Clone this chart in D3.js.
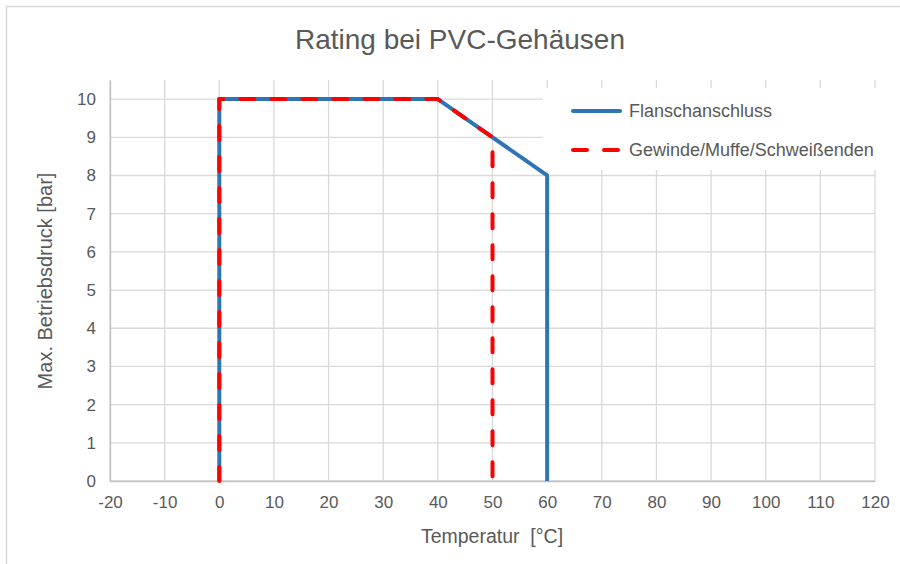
<!DOCTYPE html>
<html>
<head>
<meta charset="utf-8">
<script src="https://cdn.jsdelivr.net/npm/d3@7"></script>
<style>
  body { margin: 0; background: #fff; }
  text { font-family: "Liberation Sans", Arial, sans-serif; fill: #595959; }
</style>
</head>
<body>
<div id="chart"></div>
<script>
// Chart data
var xTicks = [-20, -10, 0, 10, 20, 30, 40, 50, 60, 70, 80, 90, 100, 110, 120];
var yTicks = [0, 1, 2, 3, 4, 5, 6, 7, 8, 9, 10];
var flanschTemp = [0, 0, 40, 60, 60];
var flanschDruck = [0, 10, 10, 8, 0];
var gewindeTemp = [0, 0, 40, 50, 50];
var gewindeDruck = [0, 10, 10, 9, 0];
var seriesNames = ["Flanschanschluss", "Gewinde/Muffe/Schweißenden"];

var svgWidth = 900;
var svgHeight = 564;

var margin = { top: 80, right: 25, bottom: 83, left: 110 };
var width = svgWidth - margin.left - margin.right;
var height = svgHeight - margin.top - margin.bottom;

var svg = d3.select("#chart")
  .append("svg")
  .attr("width", svgWidth)
  .attr("height", svgHeight);

// outer chart border
svg.append("rect")
  .attr("x", 6.5)
  .attr("y", 6.5)
  .attr("width", 900)
  .attr("height", 600)
  .attr("fill", "none")
  .attr("stroke", "#d9d9d9")
  .attr("stroke-width", 1.5);

var chartGroup = svg.append("g")
  .attr("transform", `translate(${margin.left}, ${margin.top})`);

var xScale = d3.scaleLinear().domain([-20, 120]).range([0, width]);
var yScale = d3.scaleLinear().domain([0, 10.5]).range([height, 0]);

// gridlines
chartGroup.append("g")
  .selectAll("line")
  .data(xTicks)
  .enter()
  .append("line")
  .attr("x1", d => xScale(d))
  .attr("x2", d => xScale(d))
  .attr("y1", 0)
  .attr("y2", height)
  .attr("stroke", "#d9d9d9")
  .attr("stroke-width", 1.3);

chartGroup.append("g")
  .selectAll("line")
  .data(yTicks)
  .enter()
  .append("line")
  .attr("x1", 0)
  .attr("x2", width)
  .attr("y1", d => yScale(d))
  .attr("y2", d => yScale(d))
  .attr("stroke", "#d9d9d9")
  .attr("stroke-width", 1.3);

// axes (plain hyphen for negatives, like the original)
var bottomAxis = d3.axisBottom(xScale).tickValues(xTicks).tickSize(0).tickPadding(15)
  .tickFormat(d => String(d));
var leftAxis = d3.axisLeft(yScale).tickValues(yTicks).tickSize(0).tickPadding(14)
  .tickFormat(d => String(d));

var xAxisG = chartGroup.append("g")
  .attr("transform", `translate(0, ${height})`)
  .call(bottomAxis);
xAxisG.select(".domain").attr("stroke", "#bfbfbf").attr("stroke-width", 1.5);

var yAxisG = chartGroup.append("g").call(leftAxis);
yAxisG.select(".domain").attr("stroke", "#bfbfbf").attr("stroke-width", 1.3);

chartGroup.selectAll(".tick text")
  .style("font-size", "17px")
  .style("font-family", "'Liberation Sans', Arial, sans-serif")
  .attr("fill", "#595959");

// lines
var line = d3.line()
  .x(d => xScale(d[0]))
  .y(d => yScale(d[1]));

var flanschData = d3.zip(flanschTemp, flanschDruck);
var gewindeData = d3.zip(gewindeTemp, gewindeDruck);

chartGroup.append("path")
  .datum(flanschData)
  .attr("d", line)
  .attr("fill", "none")
  .attr("stroke", "#2e75b6")
  .attr("stroke-width", 4)
  .attr("stroke-linejoin", "round");

chartGroup.append("path")
  .datum(gewindeData)
  .attr("d", line)
  .attr("fill", "none")
  .attr("stroke", "#ff0000")
  .attr("stroke-width", 4)
  .attr("stroke-linejoin", "round")
  .attr("stroke-linecap", "round")
  .attr("stroke-dasharray", "14,17");

// legend
var legend = svg.append("g");
legend.append("rect")
  .attr("x", 543)
  .attr("y", 88)
  .attr("width", 352)
  .attr("height", 82)
  .attr("fill", "#fff");

var legendY = [111, 150];
var legendColors = ["#2e75b6", "#ff0000"];
var legendDash = [null, "14,17"];

seriesNames.forEach(function(name, i) {
  legend.append("line")
    .attr("x1", 573)
    .attr("x2", 620)
    .attr("y1", legendY[i])
    .attr("y2", legendY[i])
    .attr("stroke", legendColors[i])
    .attr("stroke-width", 4)
    .attr("stroke-linecap", "round")
    .attr("stroke-dasharray", legendDash[i]);
  legend.append("text")
    .attr("x", 629)
    .attr("y", legendY[i] + 6)
    .style("font-size", "18px")
    .text(name);
});

// title
svg.append("text")
  .attr("x", 460)
  .attr("y", 49)
  .attr("text-anchor", "middle")
  .style("font-size", "28px")
  .text("Rating bei PVC-Gehäusen");

// axis titles
svg.append("text")
  .attr("transform", "rotate(-90)")
  .attr("x", -281)
  .attr("y", 52)
  .attr("text-anchor", "middle")
  .style("font-size", "20px")
  .text("Max. Betriebsdruck [bar]");

svg.append("text")
  .attr("x", 492)
  .attr("y", 543)
  .attr("text-anchor", "middle")
  .attr("xml:space", "preserve")
  .style("white-space", "pre")
  .style("font-size", "19.5px")
  .text("Temperatur  [°C]");
</script>
</body>
</html>
